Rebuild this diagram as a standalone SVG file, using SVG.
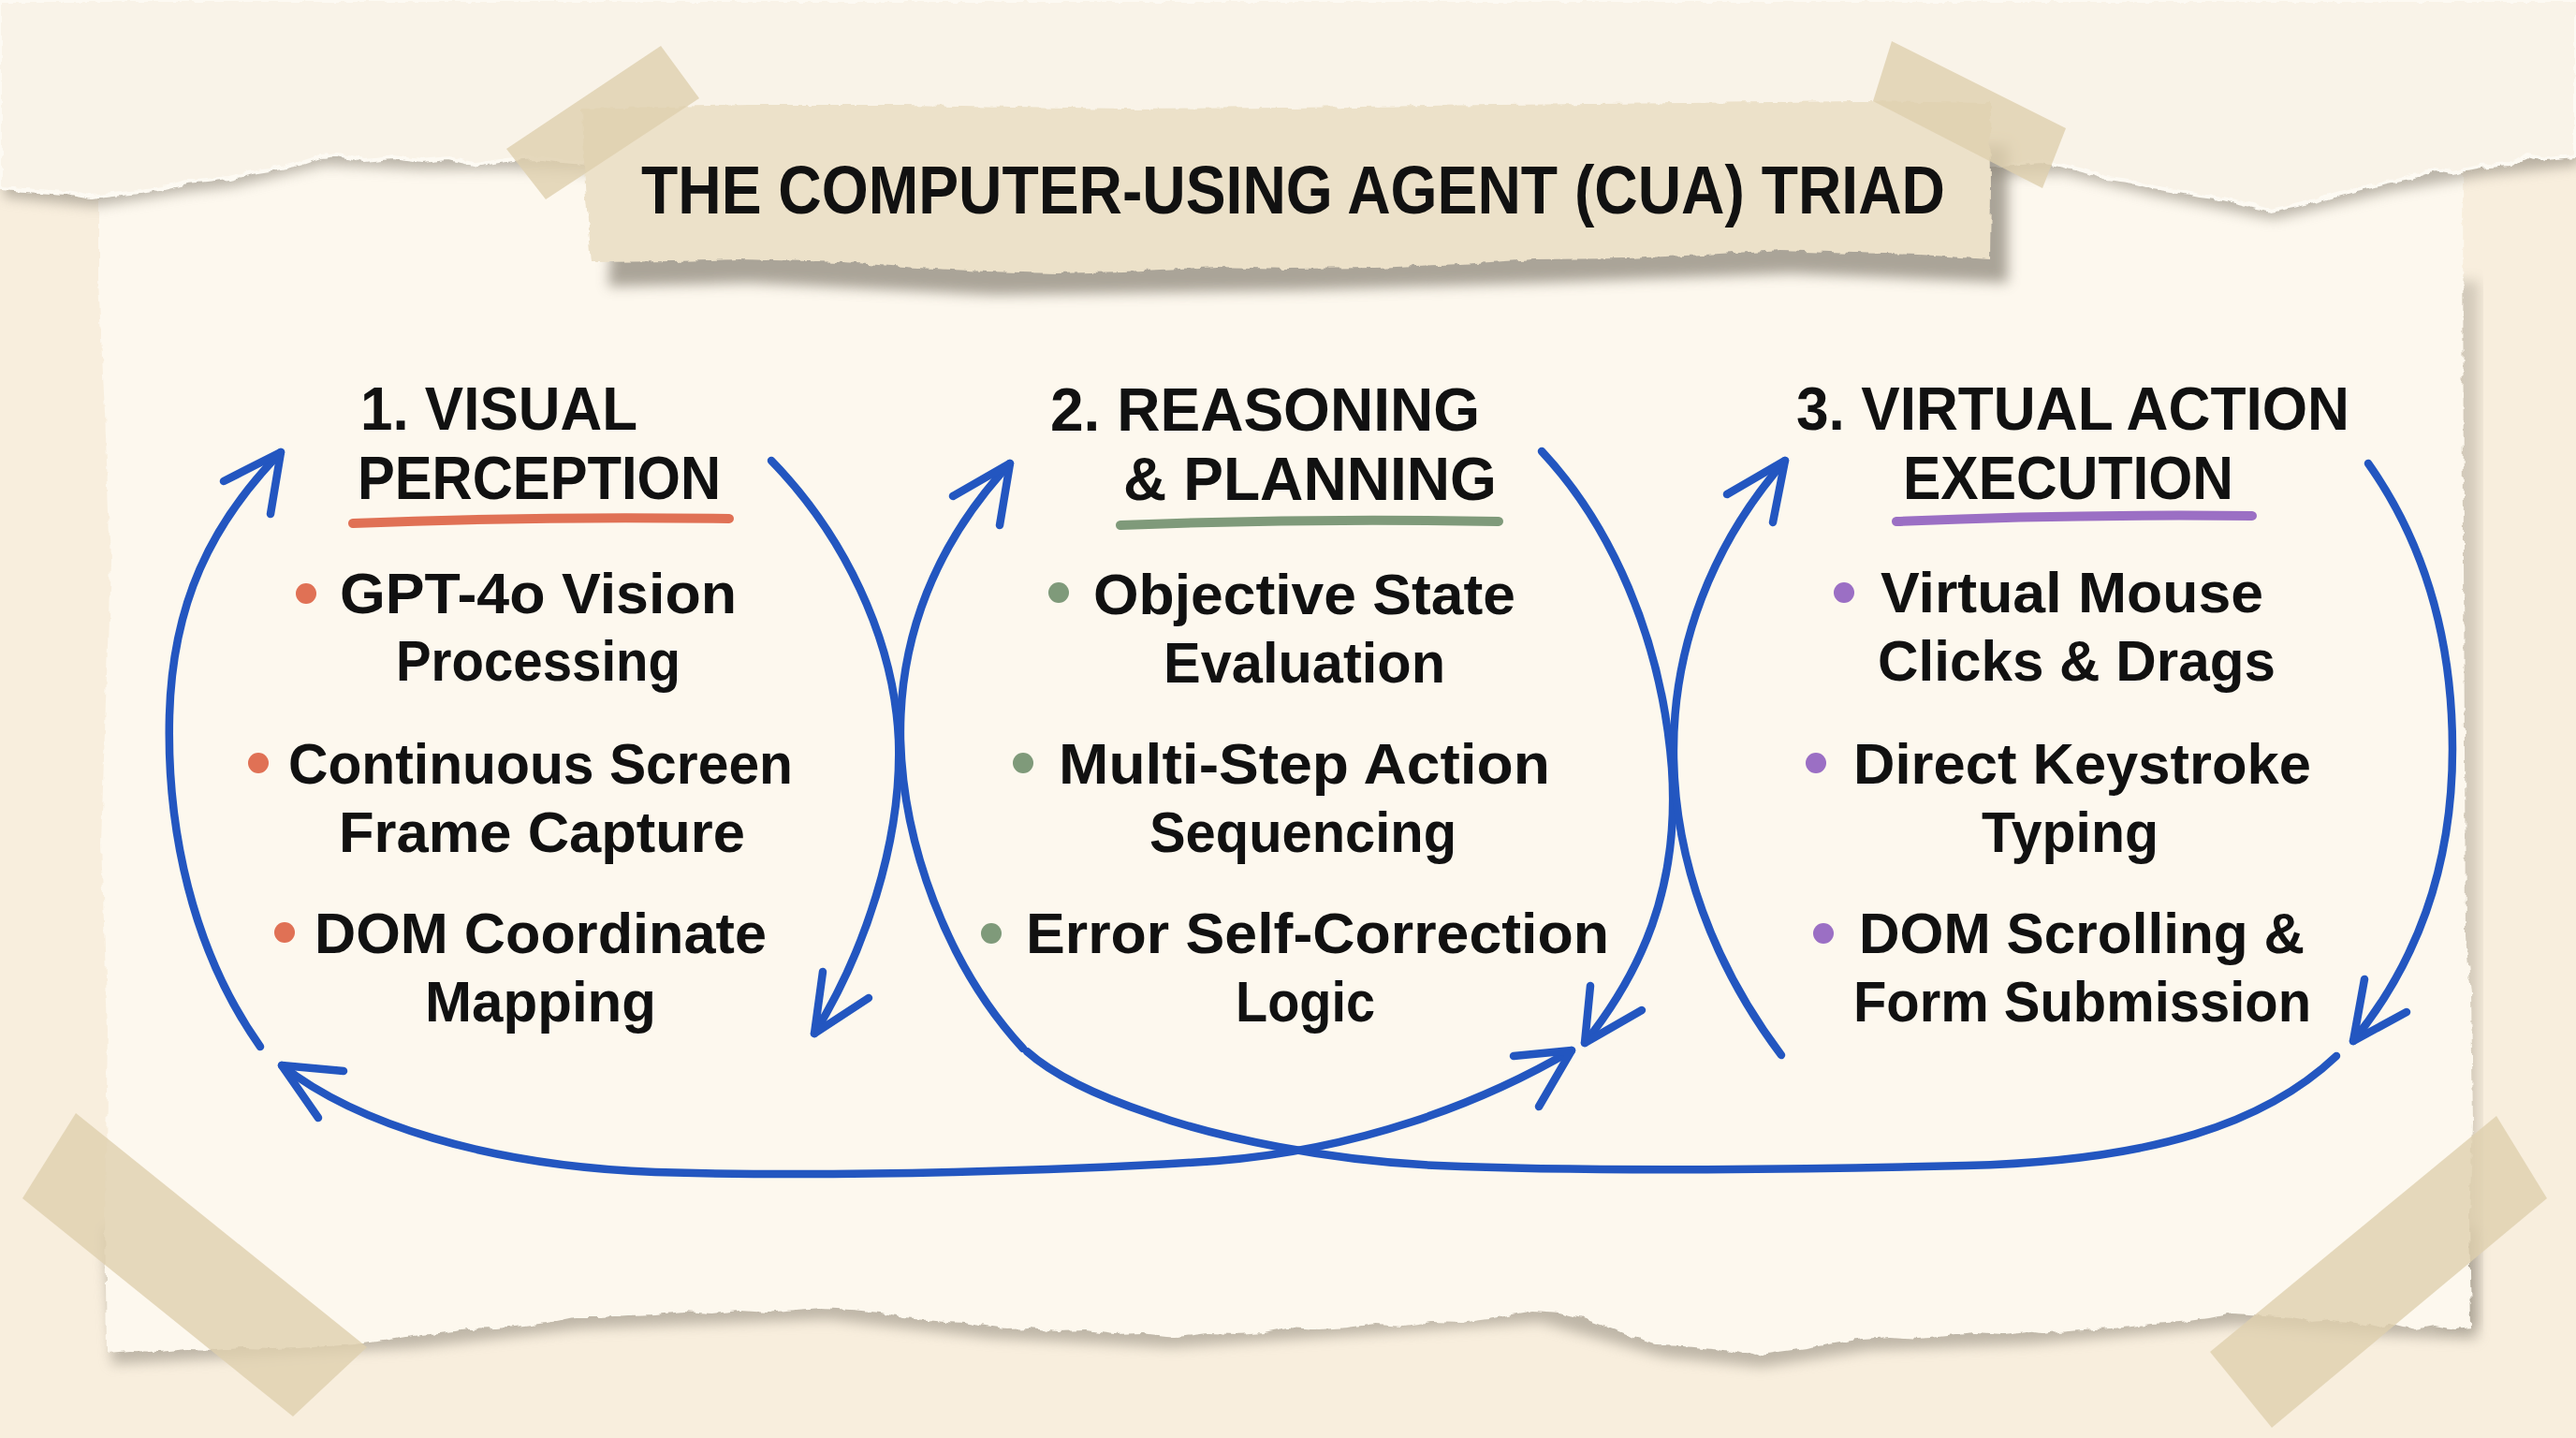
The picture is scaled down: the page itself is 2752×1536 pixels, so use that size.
<svg xmlns="http://www.w3.org/2000/svg" width="2752" height="1536" viewBox="0 0 2752 1536">
  <defs>
    <filter id="blur" x="-10%" y="-10%" width="120%" height="130%">
      <feGaussianBlur stdDeviation="7"/>
    </filter>
    <filter id="rough" x="-2%" y="-2%" width="104%" height="104%">
      <feTurbulence type="fractalNoise" baseFrequency="0.09" numOctaves="2" seed="3" result="n"/>
      <feDisplacementMap in="SourceGraphic" in2="n" scale="7" xChannelSelector="R" yChannelSelector="G"/>
    </filter>
    <style>
      .txt { font-family: "Liberation Sans", Arial, sans-serif; font-weight: 700; fill: #111; }
      .head { font-size: 64px; }
      .body { font-size: 62px; }
      .title { font-family: "Liberation Sans", Arial, sans-serif; font-weight: 700; font-size: 72px; fill: #111; }
      .arc { fill: none; stroke: #2356c0; stroke-width: 8.5; stroke-linecap: round; stroke-linejoin: round; }
      .tape { fill: #dfcfae; opacity: 0.8; }
      .uline { fill: none; stroke-width: 10; stroke-linecap: round; }
    </style>
  </defs>

  <!-- background -->
  <rect x="0" y="0" width="2752" height="1536" fill="#f8eedd"/>

  <g id="paper">
    <path d="M105,1300 L2640,1300 L2640,1418 L2517,1413 L2385,1403 L2166,1423 L1990,1430 L1876,1448 L1771,1437 L1639,1400 L1376,1418 L1246,1427 L1053,1417 L878,1397 L614,1407 L439,1427 L114,1445 Z" fill="#8f887c" opacity="0.55" transform="translate(6,12)" filter="url(#blur)"/>
    <path d="M2600,300 L2642,300 L2642,1418 L2600,1418 Z" fill="#8f887c" opacity="0.35" transform="translate(6,0)" filter="url(#blur)"/>
    <g filter="url(#rough)">
      <path d="M105,150 L2631,150 L2632,600 L2634,1000 L2640,1060 L2642,1200 L2638,1300 L2640,1418 L2622,1420 L2600,1416 L2580,1420 L2560,1415 L2540,1418 L2517,1413 L2490,1410 L2470,1412 L2450,1407 L2420,1405 L2385,1403 L2360,1408 L2330,1412 L2300,1414 L2270,1418 L2240,1420 L2210,1422 L2180,1425 L2166,1423 L2140,1426 L2110,1424 L2080,1427 L2050,1430 L2020,1428 L1990,1430 L1960,1435 L1930,1440 L1900,1444 L1876,1448 L1850,1443 L1820,1440 L1800,1438 L1771,1437 L1750,1430 L1730,1422 L1710,1415 L1690,1408 L1665,1402 L1639,1400 L1615,1404 L1590,1409 L1560,1413 L1530,1412 L1500,1416 L1470,1414 L1440,1418 L1410,1420 L1376,1418 L1350,1423 L1320,1425 L1290,1424 L1260,1428 L1246,1427 L1220,1424 L1190,1425 L1160,1421 L1130,1422 L1100,1419 L1075,1420 L1053,1417 L1030,1413 L1010,1412 L990,1410 L965,1408 L940,1402 L910,1399 L878,1397 L850,1399 L820,1402 L790,1400 L760,1403 L730,1401 L700,1404 L670,1405 L640,1407 L614,1407 L590,1412 L560,1416 L530,1419 L500,1420 L470,1424 L439,1427 L410,1432 L380,1436 L350,1438 L320,1440 L290,1441 L260,1440 L230,1442 L200,1441 L170,1444 L140,1443 L114,1445 L112,1300 L115,1100 L108,900 L118,600 L112,440 L105,300 Z" fill="#fdf8ee"/>
    </g>
    <path d="M0,120 H2752 V167 L2650,178 L2550,195 L2425,225 L2300,200 L2200,176 L2100,180 L640,175 L539,171 L450,172 L343,167 L245,190 L200,195 L98,211 L0,201 Z" fill="#8f887c" opacity="0.6" transform="translate(4,9)" filter="url(#blur)"/>
    <g filter="url(#rough)">
      <path d="M0,0 H2752 V167 L2720,170 L2700,166 L2680,175 L2650,178 L2620,184 L2600,181 L2575,190 L2550,195 L2525,201 L2500,207 L2475,214 L2450,220 L2425,225 L2400,218 L2375,212 L2350,209 L2325,204 L2300,200 L2275,193 L2250,190 L2225,182 L2200,176 L2180,172 L2100,180 L640,175 L600,172 L570,168 L539,171 L510,176 L480,169 L450,172 L420,168 L390,171 L360,165 L343,167 L320,175 L295,180 L270,184 L245,190 L220,193 L200,195 L175,201 L150,205 L120,208 L98,211 L70,206 L40,204 L0,201 Z" fill="#f9f3e8" stroke="#fdfaf3" stroke-width="4"/>
    </g>
  </g>

  <g id="title">
    <path d="M650,140 L2135,135 L2135,282 L1903,272 L1639,282 L1376,290 L1053,295 L790,282 L640,286 Z" fill="#8f887c" opacity="0.75" transform="translate(10,20)" filter="url(#blur)"/>
    <g filter="url(#rough)">
      <path d="M622,116 L800,112 L965,112 L1200,116 L1376,115 L1600,112 L1800,110 L1990,108 L2126,110 L2127,200 L2126,277 L2050,272 L1980,270 L1903,267 L1820,272 L1740,276 L1639,277 L1560,282 L1470,286 L1376,287 L1300,285 L1200,290 L1130,292 L1053,290 L980,286 L900,280 L790,277 L720,279 L632,280 L625,200 Z" fill="#ece1c9"/>
    </g>
    <text class="title" x="685" y="228" textLength="1393" lengthAdjust="spacingAndGlyphs">THE COMPUTER-USING AGENT (CUA) TRIAD</text>
  </g>

  <g id="tapes">
    <polygon class="tape" points="541,159 706,49 747,105 583,213"/>
    <polygon class="tape" points="2021,44 2207,137 2182,201 2001,108"/>
    <polygon class="tape" points="81,1189 24,1280 313,1513 392,1439"/>
    <polygon class="tape" points="2667,1192 2721,1280 2427,1525 2361,1444"/>
  </g>

  <g id="connectors">
    <path class="arc" d="M278,1118 C205,1015 178,885 181,765 C184,645 225,560 300,483"/>
    <path class="arc" d="M239,514 L300,483 L289,549"/>
    <path class="arc" d="M824,492 C900,570 955,680 960,790 C964,900 922,1020 870,1104"/>
    <path class="arc" d="M879,1038 L870,1104 L928,1066"/>
    <path class="arc" d="M1093,1120 C1010,1030 965,900 962,790 C960,680 1000,580 1079,495"/>
    <path class="arc" d="M1018,530 L1079,495 L1068,561"/>
    <path class="arc" d="M1647,482 C1720,560 1775,680 1786,820 C1795,950 1752,1040 1693,1114"/>
    <path class="arc" d="M1699,1053 L1693,1114 L1754,1079"/>
    <path class="arc" d="M1903,1127 C1830,1030 1790,920 1788,810 C1786,690 1830,580 1907,492"/>
    <path class="arc" d="M1845,528 L1907,492 L1894,558"/>
    <path class="arc" d="M2530,495 C2590,580 2620,680 2620,800 C2620,930 2580,1030 2514,1112"/>
    <path class="arc" d="M2526,1046 L2514,1112 L2571,1081"/>
    <path class="arc" d="M2496,1128 C2420,1200 2300,1240 2100,1245 C1950,1249 1700,1252 1536,1245 C1420,1240 1300,1215 1230,1190 C1170,1170 1125,1148 1097,1123"/>
    <path class="arc" d="M301,1138 C380,1200 520,1245 700,1252 C900,1258 1150,1250 1300,1240 C1450,1228 1580,1180 1679,1122"/>
    <path class="arc" d="M367,1144 L301,1138 L340,1194"/>
    <path class="arc" d="M1617,1128 L1679,1122 L1644,1182"/>
  </g>

  <g id="node-perception">
    <text class="txt head" x="385" y="459" textLength="296" lengthAdjust="spacingAndGlyphs">1. VISUAL</text>
    <text class="txt head" x="382" y="533" textLength="388" lengthAdjust="spacingAndGlyphs">PERCEPTION</text>
    <path class="uline" stroke="#e07155" d="M377,559 Q575,551 779,554"/>
    <circle cx="327" cy="634" r="11" fill="#e07155"/>
    <text class="txt body" x="363" y="655" textLength="424" lengthAdjust="spacingAndGlyphs">GPT-4o Vision</text>
    <text class="txt body" x="423" y="727" textLength="304" lengthAdjust="spacingAndGlyphs">Processing</text>
    <circle cx="276" cy="815" r="11" fill="#e07155"/>
    <text class="txt body" x="308" y="837" textLength="539" lengthAdjust="spacingAndGlyphs">Continuous Screen</text>
    <text class="txt body" x="362" y="910" textLength="434" lengthAdjust="spacingAndGlyphs">Frame Capture</text>
    <circle cx="304" cy="996" r="11" fill="#e07155"/>
    <text class="txt body" x="336" y="1018" textLength="483" lengthAdjust="spacingAndGlyphs">DOM Coordinate</text>
    <text class="txt body" x="454" y="1091" textLength="247" lengthAdjust="spacingAndGlyphs">Mapping</text>
  </g>

  <g id="node-reasoning">
    <text class="txt head" x="1122" y="460" textLength="459" lengthAdjust="spacingAndGlyphs">2. REASONING</text>
    <text class="txt head" x="1200" y="534" textLength="399" lengthAdjust="spacingAndGlyphs">&amp; PLANNING</text>
    <path class="uline" stroke="#7f9a7a" d="M1197,561 Q1400,553 1601,557"/>
    <circle cx="1131" cy="633" r="11" fill="#7f9a7a"/>
    <text class="txt body" x="1168" y="656" textLength="451" lengthAdjust="spacingAndGlyphs">Objective State</text>
    <text class="txt body" x="1243" y="729" textLength="301" lengthAdjust="spacingAndGlyphs">Evaluation</text>
    <circle cx="1093" cy="815" r="11" fill="#7f9a7a"/>
    <text class="txt body" x="1131" y="837" textLength="525" lengthAdjust="spacingAndGlyphs">Multi-Step Action</text>
    <text class="txt body" x="1228" y="910" textLength="328" lengthAdjust="spacingAndGlyphs">Sequencing</text>
    <circle cx="1059" cy="997" r="11" fill="#7f9a7a"/>
    <text class="txt body" x="1096" y="1018" textLength="623" lengthAdjust="spacingAndGlyphs">Error Self-Correction</text>
    <text class="txt body" x="1320" y="1091" textLength="149" lengthAdjust="spacingAndGlyphs">Logic</text>
  </g>

  <g id="node-execution">
    <text class="txt head" x="1919" y="459" textLength="591" lengthAdjust="spacingAndGlyphs">3. VIRTUAL ACTION</text>
    <text class="txt head" x="2033" y="533" textLength="353" lengthAdjust="spacingAndGlyphs">EXECUTION</text>
    <path class="uline" stroke="#9b6fc4" d="M2026,557 Q2210,549 2406,551"/>
    <circle cx="1970" cy="633" r="11" fill="#9b6fc4"/>
    <text class="txt body" x="2009" y="654" textLength="409" lengthAdjust="spacingAndGlyphs">Virtual Mouse</text>
    <text class="txt body" x="2006" y="727" textLength="425" lengthAdjust="spacingAndGlyphs">Clicks &amp; Drags</text>
    <circle cx="1940" cy="815" r="11" fill="#9b6fc4"/>
    <text class="txt body" x="1980" y="837" textLength="489" lengthAdjust="spacingAndGlyphs">Direct Keystroke</text>
    <text class="txt body" x="2117" y="910" textLength="189" lengthAdjust="spacingAndGlyphs">Typing</text>
    <circle cx="1948" cy="997" r="11" fill="#9b6fc4"/>
    <text class="txt body" x="1986" y="1018" textLength="476" lengthAdjust="spacingAndGlyphs">DOM Scrolling &amp;</text>
    <text class="txt body" x="1980" y="1091" textLength="489" lengthAdjust="spacingAndGlyphs">Form Submission</text>
  </g>
</svg>
